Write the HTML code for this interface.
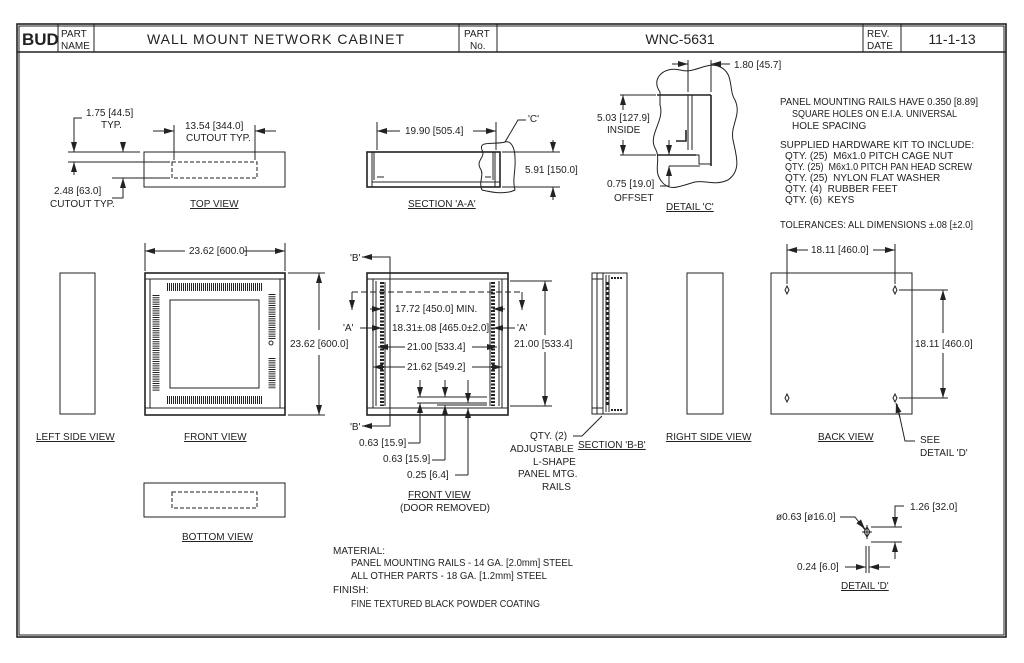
<!DOCTYPE html>
<html><head><meta charset="utf-8"><style>
html,body{margin:0;padding:0;background:#fff;}
svg{display:block;}
text{font-family:"Liberation Sans Narrow","Liberation Sans",sans-serif;font-size:10px;fill:#222;}
.t{font-size:14px;}
line,rect,path,polyline,circle,ellipse{stroke:#222;fill:none;stroke-width:1;}
.th{stroke-width:1.6;}
.d{stroke-dasharray:4,2;}
.v{stroke-width:5;stroke-dasharray:1,1;}
</style></head><body>
<svg width="1024" height="663" viewBox="0 0 1024 663" xmlns="http://www.w3.org/2000/svg">
<defs>
<marker id="a" viewBox="0 0 10 6" refX="10" refY="3" markerWidth="10" markerHeight="6" orient="auto-start-reverse" markerUnits="userSpaceOnUse"><path d="M0,0 L10,3 L0,6z" style="fill:#222;stroke:none"/></marker>
</defs>
<rect x="17" y="24" width="989" height="613" class="th"/>
<rect x="19" y="26" width="985" height="609"/>
<line x1="17" y1="52" x2="1006" y2="52" class="th"/>
<line x1="58" y1="24" x2="58" y2="52"/><line x1="94" y1="24" x2="94" y2="52"/>
<line x1="459" y1="24" x2="459" y2="52"/><line x1="497" y1="24" x2="497" y2="52"/>
<line x1="863" y1="24" x2="863" y2="52"/><line x1="901" y1="24" x2="901" y2="52"/>
<text x="22" y="45" style="font-size:17px;font-weight:bold">BUD</text>
<text x="61" y="37">PART</text><text x="61" y="49">NAME</text>
<text x="276" y="44" class="t" text-anchor="middle" style="letter-spacing:1px">WALL MOUNT NETWORK CABINET</text>
<text x="464" y="37">PART</text><text x="470" y="49">No.</text>
<text x="680" y="44" class="t" text-anchor="middle">WNC-5631</text>
<text x="867" y="37">REV.</text><text x="867" y="49">DATE</text>
<text x="952" y="44" class="t" text-anchor="middle">11-1-13</text>

<!-- TOP VIEW -->
<rect x="144" y="152" width="141" height="35"/>
<rect x="172" y="162" width="85" height="16" class="d"/>
<line x1="68" y1="152" x2="140" y2="152"/><line x1="68" y1="162" x2="170" y2="162"/><line x1="112" y1="178" x2="170" y2="178"/>
<line x1="74" y1="120" x2="74" y2="152" marker-end="url(#a)"/><polyline points="74,120 74,118 82,118"/>
<line x1="123" y1="142" x2="123" y2="152" marker-end="url(#a)"/>
<line x1="74" y1="175" x2="74" y2="162" marker-end="url(#a)"/>
<line x1="123" y1="192" x2="123" y2="178" marker-end="url(#a)"/><polyline points="123,192 123,198 112,198"/>
<text x="86" y="116">1.75 [44.5]</text><text x="101" y="128">TYP.</text>
<text x="54" y="194">2.48 [63.0]</text><text x="50" y="207">CUTOUT TYP.</text>
<line x1="174" y1="125" x2="174" y2="160"/><line x1="255" y1="125" x2="255" y2="160"/>
<line x1="153" y1="131" x2="174" y2="131" marker-end="url(#a)"/><line x1="276" y1="131" x2="255" y2="131" marker-end="url(#a)"/>
<text x="185" y="129">13.54 [344.0]</text><text x="186" y="141">CUTOUT TYP.</text>
<text x="190" y="207" text-decoration="underline">TOP VIEW</text>

<!-- SECTION A-A -->
<rect x="367" y="152" width="133" height="35" class="th"/>
<line x1="372" y1="182" x2="500" y2="182"/>
<line x1="372" y1="152" x2="372" y2="187"/><line x1="374" y1="152" x2="374" y2="180"/>
<line x1="495" y1="152" x2="495" y2="187"/><line x1="493" y1="152" x2="493" y2="180"/>
<line x1="377" y1="177" x2="384" y2="177"/><line x1="485" y1="177" x2="491" y2="177"/>
<line x1="377" y1="122" x2="377" y2="150"/><line x1="496" y1="122" x2="496" y2="150"/>
<line x1="400" y1="131" x2="377" y2="131" marker-end="url(#a)"/><line x1="473" y1="131" x2="496" y2="131" marker-end="url(#a)"/>
<text x="405" y="134">19.90 [505.4]</text>
<path d="M482,150 C478,140 495,145 505,142 C512,140 515,150 515,158 C516,170 512,180 515,190 C505,195 490,192 482,190 C478,182 485,175 480,168 C476,160 486,157 482,150z"/>
<polyline points="505,142 518,120 526,120"/><text x="528" y="122">'C'</text>
<line x1="502" y1="152" x2="560" y2="152"/><line x1="502" y1="187" x2="560" y2="187"/>
<line x1="553" y1="140" x2="553" y2="152" marker-end="url(#a)"/><line x1="553" y1="200" x2="553" y2="187" marker-end="url(#a)"/>
<text x="525" y="173">5.91 [150.0]</text>
<text x="408" y="207" text-decoration="underline">SECTION 'A-A'</text>

<!-- DETAIL C -->
<path d="M660,92 C650,78 665,66 680,70 C695,74 705,62 718,66 C735,72 728,90 735,100 C742,115 730,125 733,140 C736,155 742,170 728,180 C715,186 705,180 695,182 C680,186 670,192 662,182 C652,170 662,160 655,148 C648,135 665,120 660,105z"/>
<line x1="657" y1="95" x2="711" y2="95" class="th"/><line x1="711" y1="95" x2="711" y2="166" class="th"/>
<line x1="657" y1="155" x2="696" y2="155" class="th"/><polyline points="696,155 699,155 699,164 711,164"/>
<line x1="688" y1="95" x2="688" y2="150"/><line x1="692" y1="95" x2="692" y2="150"/>
<polyline points="676,141 686,141 686,130" class="th"/>
<line x1="688" y1="60" x2="688" y2="92"/><line x1="711" y1="60" x2="711" y2="92"/>
<line x1="672" y1="64" x2="688" y2="64" marker-end="url(#a)"/><line x1="730" y1="64" x2="711" y2="64" marker-end="url(#a)"/>
<text x="734" y="68">1.80 [45.7]</text>
<line x1="620" y1="95" x2="656" y2="95"/><line x1="620" y1="155" x2="656" y2="155"/>
<line x1="623" y1="110" x2="623" y2="95" marker-end="url(#a)"/><line x1="623" y1="140" x2="623" y2="155" marker-end="url(#a)"/>
<text x="597" y="121">5.03 [127.9]</text><text x="607" y="133">INSIDE</text>
<line x1="669" y1="140" x2="669" y2="155" marker-end="url(#a)"/><line x1="669" y1="180" x2="669" y2="166" marker-end="url(#a)"/>
<polyline points="669,180 669,186 660,186"/><line x1="669" y1="166" x2="700" y2="166"/>
<text x="607" y="187">0.75 [19.0]</text><text x="614" y="201">OFFSET</text>
<text x="666" y="210" text-decoration="underline">DETAIL 'C'</text>

<!-- NOTES -->
<text x="780" y="105" textLength="198" lengthAdjust="spacingAndGlyphs">PANEL MOUNTING RAILS HAVE 0.350 [8.89]</text>
<text x="792" y="117" textLength="165" lengthAdjust="spacingAndGlyphs">SQUARE HOLES ON E.I.A. UNIVERSAL</text>
<text x="792" y="129">HOLE SPACING</text>
<text x="780" y="148">SUPPLIED HARDWARE KIT TO INCLUDE:</text>
<text x="785" y="159">QTY. (25)&#160;&#160;M6x1.0 PITCH CAGE NUT</text>
<text x="785" y="170" textLength="187" lengthAdjust="spacingAndGlyphs">QTY. (25)&#160;&#160;M6x1.0 PITCH PAN HEAD SCREW</text>
<text x="785" y="181">QTY. (25)&#160;&#160;NYLON FLAT WASHER</text>
<text x="785" y="192">QTY. (4)&#160;&#160;RUBBER FEET</text>
<text x="785" y="203">QTY. (6)&#160;&#160;KEYS</text>
<text x="780" y="228" textLength="193" lengthAdjust="spacingAndGlyphs">TOLERANCES: ALL DIMENSIONS ±.08 [±2.0]</text>

<!-- LEFT SIDE -->
<rect x="60" y="273" width="35" height="141"/>
<text x="36" y="440" text-decoration="underline">LEFT SIDE VIEW</text>

<!-- FRONT VIEW -->
<rect x="145" y="273" width="140" height="142" class="th"/>
<line x1="145" y1="279" x2="285" y2="279"/><line x1="145" y1="408" x2="285" y2="408"/>
<line x1="150" y1="279" x2="150" y2="408"/><line x1="280" y1="279" x2="280" y2="408"/>
<rect x="170" y="300" width="89" height="88"/>
<line x1="167" y1="287" x2="263" y2="287" class="v" style="stroke-width:8"/>
<line x1="167" y1="400" x2="263" y2="400" class="v" style="stroke-width:8"/>
<line x1="156" y1="295" x2="156" y2="391" class="v" style="stroke-dasharray:1,1.2;stroke-width:7"/>
<line x1="272" y1="294" x2="272" y2="340" class="v" style="stroke-dasharray:1,1.2;stroke-width:7"/>
<line x1="272" y1="358" x2="272" y2="389" class="v" style="stroke-dasharray:1,1.2;stroke-width:7"/>
<circle cx="271" cy="343" r="2"/>
<line x1="145" y1="243" x2="145" y2="271"/><line x1="285" y1="243" x2="285" y2="271"/>
<line x1="185" y1="251" x2="145" y2="251" marker-end="url(#a)"/><line x1="244" y1="251" x2="285" y2="251" marker-end="url(#a)"/>
<text x="189" y="254">23.62 [600.0]</text>
<line x1="288" y1="273" x2="325" y2="273"/><line x1="288" y1="415" x2="325" y2="415"/>
<line x1="319" y1="330" x2="319" y2="273" marker-end="url(#a)"/><line x1="319" y1="355" x2="319" y2="415" marker-end="url(#a)"/>
<text x="290" y="347">23.62 [600.0]</text>
<text x="184" y="440" text-decoration="underline">FRONT VIEW</text>

<!-- FRONT VIEW DOOR REMOVED -->
<rect x="367" y="273" width="141" height="142" class="th"/>
<line x1="367" y1="279" x2="508" y2="279"/><line x1="367" y1="408" x2="508" y2="408"/>
<line x1="373" y1="279" x2="373" y2="408"/><line x1="502" y1="279" x2="502" y2="408"/>
<line x1="376" y1="281" x2="376" y2="406"/><line x1="499" y1="281" x2="499" y2="406"/>
<line x1="382" y1="282" x2="382" y2="406" class="v" style="stroke-width:4;stroke-dasharray:2,1.5"/>
<line x1="493" y1="282" x2="493" y2="406" class="v" style="stroke-width:4;stroke-dasharray:2,1.5"/>
<line x1="385" y1="282" x2="385" y2="406"/><line x1="490" y1="282" x2="490" y2="406"/>
<line x1="390" y1="258" x2="390" y2="425" style="stroke-dasharray:6,3"/>
<polyline points="368,257 390,257 390,426 368,426"/>
<line x1="375" y1="257" x2="362" y2="257" marker-end="url(#a)"/><line x1="375" y1="426" x2="362" y2="426" marker-end="url(#a)"/>
<text x="350" y="261">'B'</text><text x="350" y="430">'B'</text>
<line x1="352" y1="292" x2="522" y2="292" style="stroke-dasharray:6,3"/>
<line x1="352" y1="292" x2="352" y2="310" marker-end="url(#a)"/><line x1="522" y1="292" x2="522" y2="310" marker-end="url(#a)"/>
<text x="343" y="331">'A'</text><text x="517" y="331">'A'</text>
<line x1="370" y1="309" x2="382" y2="309" marker-end="url(#a)"/><line x1="505" y1="309" x2="493" y2="309" marker-end="url(#a)"/>
<text x="395" y="312">17.72 [450.0] MIN.</text>
<line x1="360" y1="328" x2="382" y2="328" marker-end="url(#a)"/><line x1="515" y1="328" x2="493" y2="328" marker-end="url(#a)"/>
<text x="392" y="331">18.31±.08 [465.0±2.0]</text>
<line x1="405" y1="347" x2="378" y2="347" marker-end="url(#a)"/><line x1="472" y1="347" x2="497" y2="347" marker-end="url(#a)"/>
<text x="407" y="350">21.00 [533.4]</text>
<line x1="405" y1="367" x2="373" y2="367" marker-end="url(#a)"/><line x1="472" y1="367" x2="502" y2="367" marker-end="url(#a)"/>
<text x="407" y="370">21.62 [549.2]</text>
<line x1="417" y1="397" x2="487" y2="397"/><line x1="417" y1="403" x2="487" y2="403"/><line x1="437" y1="405" x2="487" y2="405"/>
<line x1="420" y1="380" x2="420" y2="397" marker-end="url(#a)"/><line x1="420" y1="443" x2="420" y2="403" marker-end="url(#a)"/>
<line x1="445" y1="380" x2="445" y2="397" marker-end="url(#a)"/><line x1="445" y1="460" x2="445" y2="405" marker-end="url(#a)"/>
<line x1="468" y1="380" x2="468" y2="403" marker-end="url(#a)"/><line x1="468" y1="475" x2="468" y2="408" marker-end="url(#a)"/>
<polyline points="408,443 420,443"/><polyline points="432,460 445,460"/><polyline points="455,475 468,475"/>
<text x="359" y="446">0.63 [15.9]</text><text x="383" y="462">0.63 [15.9]</text><text x="407" y="478">0.25 [6.4]</text>
<line x1="510" y1="281" x2="552" y2="281"/><line x1="510" y1="406" x2="552" y2="406"/>
<line x1="545" y1="335" x2="545" y2="281" marker-end="url(#a)"/><line x1="545" y1="352" x2="545" y2="406" marker-end="url(#a)"/>
<text x="514" y="347">21.00 [533.4]</text>
<text x="408" y="498" text-decoration="underline">FRONT VIEW</text>
<text x="400" y="511">(DOOR REMOVED)</text>

<!-- SECTION B-B -->
<rect x="592" y="273" width="35" height="141"/>
<line x1="597" y1="273" x2="597" y2="414"/><line x1="603" y1="273" x2="603" y2="414"/>
<line x1="606" y1="275" x2="606" y2="412"/><line x1="609" y1="275" x2="609" y2="412"/>
<line x1="607.5" y1="282" x2="607.5" y2="405" class="v" style="stroke-width:2;stroke-dasharray:3,2"/>
<line x1="592" y1="279" x2="603" y2="279"/><line x1="592" y1="408" x2="603" y2="408"/>
<line x1="611" y1="278" x2="623" y2="278" class="v" style="stroke-width:2;stroke-dasharray:2,1"/>
<line x1="611" y1="410" x2="623" y2="410" class="v" style="stroke-width:2;stroke-dasharray:2,1"/>
<polyline points="573,436 582,436 602,416"/>
<text x="530" y="439">QTY. (2)</text><text x="510" y="452">ADJUSTABLE</text><text x="533" y="465">L-SHAPE</text>
<text x="518" y="477">PANEL MTG.</text><text x="542" y="490">RAILS</text>
<text x="578" y="448" text-decoration="underline">SECTION 'B-B'</text>

<!-- RIGHT SIDE -->
<rect x="687" y="273" width="36" height="141"/>
<text x="666" y="440" text-decoration="underline">RIGHT SIDE VIEW</text>

<!-- BACK VIEW -->
<rect x="771" y="273" width="141" height="141"/>
<path d="M787,286 l2,4 l-2,4 l-2,-4z"/><path d="M895,286 l2,4 l-2,4 l-2,-4z"/>
<path d="M787,394 l2,4 l-2,4 l-2,-4z"/><path d="M895,394 l2,4 l-2,4 l-2,-4z"/>
<line x1="787" y1="244" x2="787" y2="284"/><line x1="895" y1="244" x2="895" y2="284"/>
<line x1="808" y1="250" x2="787" y2="250" marker-end="url(#a)"/><line x1="873" y1="250" x2="895" y2="250" marker-end="url(#a)"/>
<text x="811" y="253">18.11 [460.0]</text>
<line x1="899" y1="290" x2="948" y2="290"/><line x1="899" y1="398" x2="948" y2="398"/>
<line x1="943" y1="333" x2="943" y2="290" marker-end="url(#a)"/><line x1="943" y1="353" x2="943" y2="398" marker-end="url(#a)"/>
<text x="915" y="347">18.11 [460.0]</text>
<polyline points="915,441 905,441 897,404"/>
<line x1="900" y1="418" x2="896" y2="403" marker-end="url(#a)"/>
<text x="920" y="443">SEE</text><text x="920" y="456">DETAIL 'D'</text>
<text x="818" y="440" text-decoration="underline">BACK VIEW</text>

<!-- BOTTOM VIEW -->
<rect x="144" y="483" width="141" height="34"/>
<rect x="172" y="492" width="85" height="16" class="d"/>
<text x="182" y="540" text-decoration="underline">BOTTOM VIEW</text>

<!-- MATERIAL -->
<text x="333" y="554">MATERIAL:</text>
<text x="351" y="566" textLength="222" lengthAdjust="spacingAndGlyphs">PANEL MOUNTING RAILS - 14 GA. [2.0mm] STEEL</text>
<text x="351" y="579" textLength="196" lengthAdjust="spacingAndGlyphs">ALL OTHER PARTS - 18 GA. [1.2mm] STEEL</text>
<text x="333" y="593">FINISH:</text>
<text x="351" y="607" textLength="189" lengthAdjust="spacingAndGlyphs">FINE TEXTURED BLACK POWDER COATING</text>

<!-- DETAIL D -->
<path d="M867,527 l3,5 l-3,5 l-3,-5z"/><line x1="862" y1="532" x2="872" y2="532"/><line x1="867" y1="525" x2="867" y2="539"/>
<line x1="866" y1="546" x2="866" y2="573"/><line x1="869" y1="546" x2="869" y2="573"/>
<polyline points="840,517 855,517 865,530"/>
<line x1="860" y1="523" x2="865" y2="529" marker-end="url(#a)"/>
<text x="776" y="520">ø0.63 [ø16.0]</text>
<line x1="871" y1="527" x2="902" y2="527"/><line x1="871" y1="542" x2="902" y2="542"/>
<line x1="895" y1="510" x2="895" y2="527" marker-end="url(#a)"/><line x1="895" y1="559" x2="895" y2="542" marker-end="url(#a)"/>
<polyline points="895,510 895,506 904,506"/>
<text x="910" y="510">1.26 [32.0]</text>
<line x1="845" y1="567" x2="866" y2="567" marker-end="url(#a)"/><line x1="890" y1="567" x2="869" y2="567" marker-end="url(#a)"/>
<text x="797" y="570">0.24 [6.0]</text>
<text x="841" y="589" text-decoration="underline">DETAIL 'D'</text>
</svg>
</body></html>
